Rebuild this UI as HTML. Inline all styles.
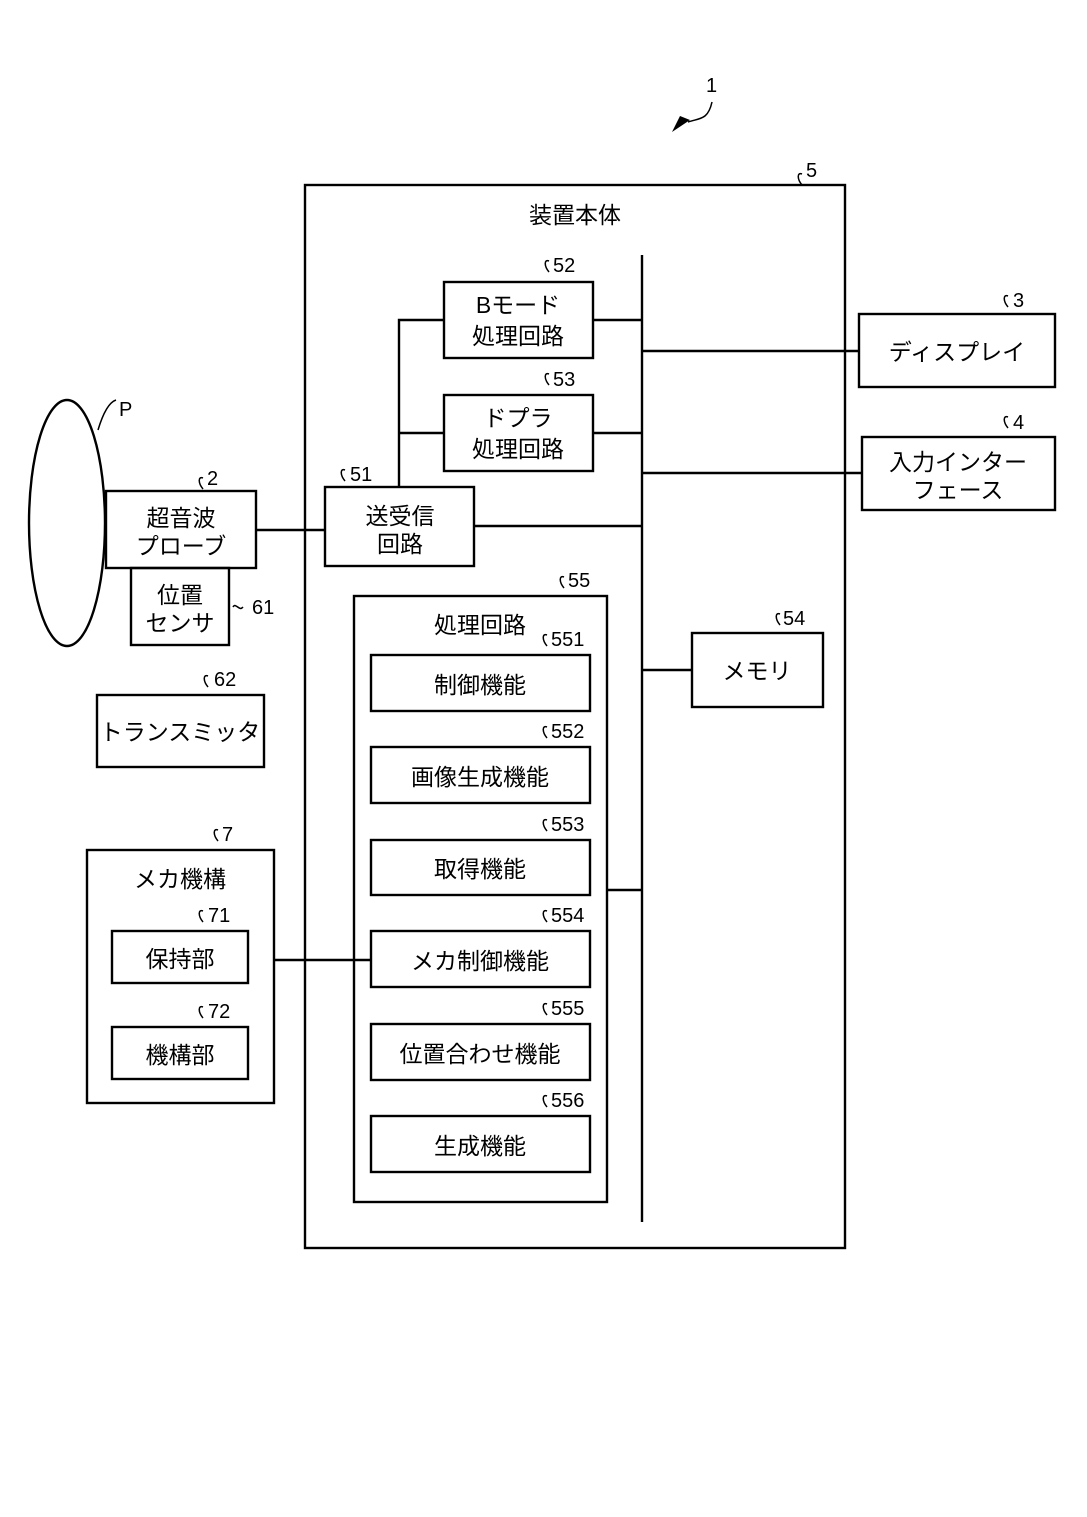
<!DOCTYPE html>
<html><head><meta charset="utf-8"><style>
html,body{margin:0;padding:0;background:#fff}
svg text{font-family:"Liberation Sans","Noto Sans CJK JP",sans-serif;font-size:23px;fill:#000}
.n text{font-size:20px}
</style></head><body>
<svg width="1087" height="1512" viewBox="0 0 1087 1512" xmlns="http://www.w3.org/2000/svg">
<g fill="none" stroke="#000" stroke-width="2.4">
<rect x="305" y="185" width="540" height="1063"/>
<line x1="642" y1="255" x2="642" y2="1222"/>
<rect x="444" y="282" width="149" height="76"/>
<rect x="444" y="395" width="149" height="76"/>
<rect x="325" y="487" width="149" height="79"/>
<rect x="106" y="491" width="150" height="77"/>
<rect x="131" y="568" width="98" height="77"/>
<rect x="859" y="314" width="196" height="73"/>
<rect x="862" y="437" width="193" height="73"/>
<rect x="692" y="633" width="131" height="74"/>
<rect x="354" y="596" width="253" height="606"/>
<rect x="371" y="655" width="219" height="56"/>
<rect x="371" y="747" width="219" height="56"/>
<rect x="371" y="840" width="219" height="55"/>
<rect x="371" y="931" width="219" height="56"/>
<rect x="371" y="1024" width="219" height="56"/>
<rect x="371" y="1116" width="219" height="56"/>
<rect x="87" y="850" width="187" height="253"/>
<rect x="112" y="931" width="136" height="52"/>
<rect x="112" y="1027" width="136" height="52"/>
<rect x="97" y="695" width="167" height="72"/>
<ellipse cx="67" cy="523" rx="38" ry="123"/>
<polyline points="444,320 399,320 399,487"/>
<line x1="399" y1="433" x2="444" y2="433"/>
<line x1="593" y1="320" x2="642" y2="320"/>
<line x1="593" y1="433" x2="642" y2="433"/>
<line x1="642" y1="351" x2="859" y2="351"/>
<line x1="642" y1="473" x2="862" y2="473"/>
<line x1="474" y1="526" x2="642" y2="526"/>
<line x1="256" y1="530" x2="325" y2="530"/>
<line x1="642" y1="670" x2="692" y2="670"/>
<line x1="607" y1="890" x2="642" y2="890"/>
<line x1="274" y1="960" x2="371" y2="960"/>
</g>
<g fill="none" stroke="#000" stroke-width="1.5">
<path d="M98,430 C104,410 110,402 116,400"/>
<path d="M712,102 C708,120 700,118 688,122"/>
<path d="M802,174 c-5,-2 -5,5 0,11 M203,478 c-5,-2 -5,5 0,11 M345,470 c-5,-2 -5,5 0,11 M549,261 c-5,-2 -5,5 0,11 M549,374 c-5,-2 -5,5 0,11 M1008,296 c-5,-2 -5,5 0,11 M1008,417 c-5,-2 -5,5 0,11 M564,577 c-5,-2 -5,5 0,11 M780,614 c-5,-2 -5,5 0,11 M547,635 c-5,-2 -5,5 0,11 M547,727 c-5,-2 -5,5 0,11 M547,820 c-5,-2 -5,5 0,11 M547,911 c-5,-2 -5,5 0,11 M547,1004 c-5,-2 -5,5 0,11 M547,1096 c-5,-2 -5,5 0,11 M208,676 c-5,-2 -5,5 0,11 M218,830 c-5,-2 -5,5 0,11 M203,911 c-5,-2 -5,5 0,11 M203,1007 c-5,-2 -5,5 0,11 M233,607 c3,-5 6,5 10,0"/>
</g>
<polygon points="672,132 690,120 680,116" fill="#000"/>
<g class="n">
<text x="706" y="92">1</text>
<text x="806" y="177">5</text>
<text x="119" y="416">P</text>
<text x="207" y="485">2</text>
<text x="350" y="481">51</text>
<text x="553" y="272">52</text>
<text x="553" y="386">53</text>
<text x="1013" y="307">3</text>
<text x="1013" y="429">4</text>
<text x="568" y="587">55</text>
<text x="783" y="625">54</text>
<text x="551" y="646">551</text>
<text x="551" y="738">552</text>
<text x="551" y="831">553</text>
<text x="551" y="922">554</text>
<text x="551" y="1015">555</text>
<text x="551" y="1107">556</text>
<text x="252" y="614">61</text>
<text x="214" y="686">62</text>
<text x="222" y="841">7</text>
<text x="208" y="922">71</text>
<text x="208" y="1018">72</text>
</g>
<g text-anchor="middle">
<text x="575" y="223">装置本体</text>
<text x="518" y="313">Bモード</text>
<text x="518" y="344">処理回路</text>
<text x="518" y="426">ドプラ</text>
<text x="518" y="457">処理回路</text>
<text x="400" y="524">送受信</text>
<text x="400" y="552">回路</text>
<text x="181" y="526">超音波</text>
<text x="181" y="554">プローブ</text>
<text x="180" y="603">位置</text>
<text x="180" y="631">センサ</text>
<text x="957" y="360">ディスプレイ</text>
<text x="958" y="470">入力インター</text>
<text x="958" y="498">フェース</text>
<text x="757" y="679">メモリ</text>
<text x="480" y="633">処理回路</text>
<text x="480" y="693">制御機能</text>
<text x="480" y="785">画像生成機能</text>
<text x="480" y="877">取得機能</text>
<text x="480" y="969">メカ制御機能</text>
<text x="480" y="1062">位置合わせ機能</text>
<text x="480" y="1154">生成機能</text>
<text x="180" y="740">トランスミッタ</text>
<text x="180" y="887">メカ機構</text>
<text x="180" y="967">保持部</text>
<text x="180" y="1063">機構部</text>
</g>
</svg>
</body></html>
